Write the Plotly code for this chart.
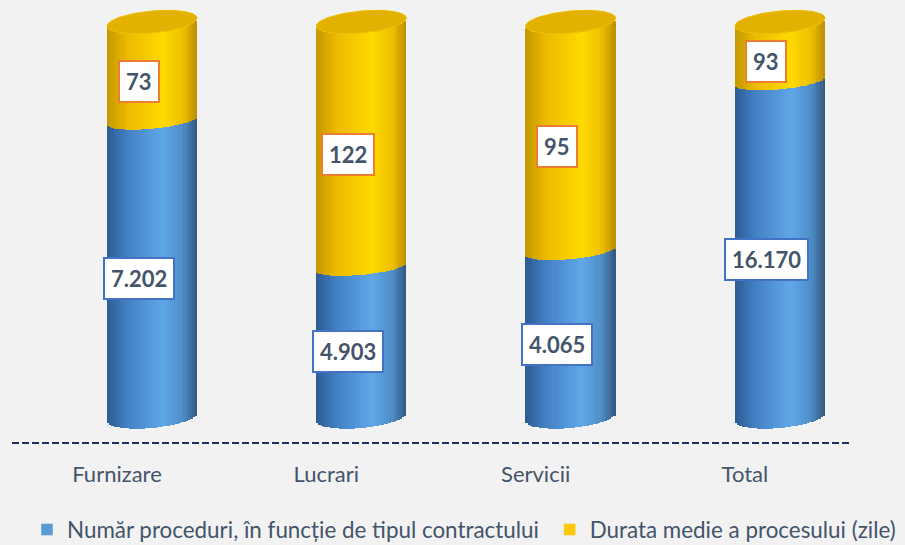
import numpy as np
import plotly.graph_objects as go

# ---------------- data ----------------
categories = ["Furnizare", "Lucrari", "Servicii", "Total"]
nr_proceduri = [7202, 4903, 4065, 16170]          # blue series (labels)
durata_medie = [73, 122, 95, 93]                   # yellow series (labels)
# share of each cylinder height taken by the blue part (%)
blue_share_pct = [75, 38, 42, 85]
yellow_share_pct = [100 - b for b in blue_share_pct]
series_names = ["Număr proceduri, în funcție de tipul contractului",
                "Durata medie a procesului (zile)"]


def fmt(v):
    return f"{v:,}".replace(",", ".")


# ---------------- geometry / style ----------------
W, H = 905, 545
MB = 100                      # bottom margin -> plot height 445
PLOT_H = H - MB
PXY = 3.95                    # px per y unit
PXX = 209.3                   # px per category
Y0_PX, TOP_PX = 417, 22
YMIN = -(PLOT_H - Y0_PX) / PXY
YMAX = 100 + TOP_PX / PXY
XMIN = -117 / PXX
XMAX = XMIN + W / PXX
DEPTH_X = 35 / PXX            # 3D offset of cylinders vs category position
LABEL_DX = 21.5 / PXX
HW = 45 / PXX                 # half width of cylinder
E_END = 11 / PXY
E_MID = 8 / PXY
TILT = 4 / PXY
N = 40

BG = "#F2F2F2"
TXT = "#44546A"

blue_stops = [(-1.0, (44, 92, 146)), (-0.55, (66, 128, 196)), (0.25, (96, 168, 232)),
              (0.7, (78, 140, 198)), (1.0, (50, 88, 128))]
yel_stops = [(-1.0, (196, 152, 0)), (-0.55, (236, 186, 0)), (0.25, (255, 218, 0)),
             (0.7, (238, 190, 0)), (1.0, (186, 142, 0))]


def grad(stops, u):
    for (u0, c0), (u1, c1) in zip(stops[:-1], stops[1:]):
        if u0 <= u <= u1:
            t = (u - u0) / (u1 - u0)
            c = [round(a + (b - a) * t) for a, b in zip(c0, c1)]
            return f"rgb({c[0]},{c[1]},{c[2]})"
    c = stops[-1][1]
    return f"rgb({c[0]},{c[1]},{c[2]})"


def front(v, e, u):
    return v + TILT * u - e * np.sqrt(max(0.0, 1 - u * u))


fig = go.Figure()
xs_center = [k + DEPTH_X for k in range(len(categories))]
w_strip = 2 * HW / N * 1.12

for i in range(N):
    u = -1 + (2 * i + 1) / N
    xs = [c + u * HW for c in xs_center]
    # blue segment
    b_base = [front(0, E_END, u) for _ in blue_share_pct]
    b_top = [front(b, E_MID, u) for b in blue_share_pct]
    fig.add_trace(go.Bar(x=xs, y=[t - s for t, s in zip(b_top, b_base)], base=b_base,
                         width=w_strip, marker=dict(color=grad(blue_stops, u), line=dict(width=0)),
                         showlegend=False, hoverinfo="skip"))
    # yellow segment
    y_base = b_top
    y_top = [front(b + y, E_END, u) for b, y in zip(blue_share_pct, yellow_share_pct)]
    fig.add_trace(go.Bar(x=xs, y=[t - s for t, s in zip(y_top, y_base)], base=y_base,
                         width=w_strip, marker=dict(color=grad(yel_stops, u), line=dict(width=0)),
                         showlegend=False, hoverinfo="skip"))

# top faces
th = np.linspace(0, 2 * np.pi, 120)
for c, b, y in zip(xs_center, blue_share_pct, yellow_share_pct):
    top = b + y
    fig.add_trace(go.Scatter(x=c + HW * np.cos(th), y=top + TILT * np.cos(th) + E_END * np.sin(th),
                             mode="lines", fill="toself", fillcolor="#E3B100",
                             line=dict(color="#EDBE00", width=1), showlegend=False, hoverinfo="skip"))

# legend entries
fig.add_trace(go.Bar(x=[None], y=[None], name=series_names[0] + "\u00a0",
                     marker_color="#5B9BD5"))
fig.add_trace(go.Bar(x=[None], y=[None], name=series_names[1], marker_color="#FFC800"))

# data labels
LBL_FONT = dict(family="Lato", size=22, color=TXT, weight="bold")
for k in range(len(categories)):
    b, y = blue_share_pct[k], yellow_share_pct[k]
    fig.add_annotation(x=k + LABEL_DX, y=b / 2, yshift=-10, text=fmt(nr_proceduri[k]),
                       showarrow=False, font=LBL_FONT,
                       bgcolor="white", bordercolor="#4472C4", borderwidth=2, borderpad=6)
    fig.add_annotation(x=k + LABEL_DX, y=b + y / 2, yshift=-10, text=fmt(durata_medie[k]),
                       showarrow=False, font=LBL_FONT,
                       bgcolor="white", bordercolor="#ED7D31", borderwidth=2, borderpad=6)

# dashed baseline
fig.add_shape(type="line", xref="paper", yref="y", x0=12 / W, x1=852 / W,
              y0=-(443 - Y0_PX) / PXY, y1=-(443 - Y0_PX) / PXY,
              line=dict(color="#1F2D5C", width=2, dash="7px,3px"))

fig.update_layout(
    width=W, height=H, barmode="overlay", bargap=0,
    paper_bgcolor=BG, plot_bgcolor=BG,
    margin=dict(l=0, r=0, t=0, b=MB),
    font=dict(family="Lato", color=TXT),
    xaxis=dict(range=[XMIN, XMAX], tickvals=list(range(len(categories))), ticktext=categories,
               showgrid=False, zeroline=False, showline=False, ticks="outside", ticklen=10,
               tickcolor="rgba(0,0,0,0)", tickfont=dict(size=22, color=TXT, family="Lato"),
               fixedrange=True),
    yaxis=dict(range=[YMIN, YMAX], visible=False, fixedrange=True),
    legend=dict(orientation="h", xref="container", yref="container", x=27 / W, y=1 - 530 / H,
                xanchor="left", yanchor="middle", font=dict(size=22.4, color=TXT),
                bgcolor="rgba(0,0,0,0)", traceorder="normal"),
    showlegend=True,
)

fig.write_html("out.html", config={"displayModeBar": False},
               post_script="document.body.style.margin='0';")
